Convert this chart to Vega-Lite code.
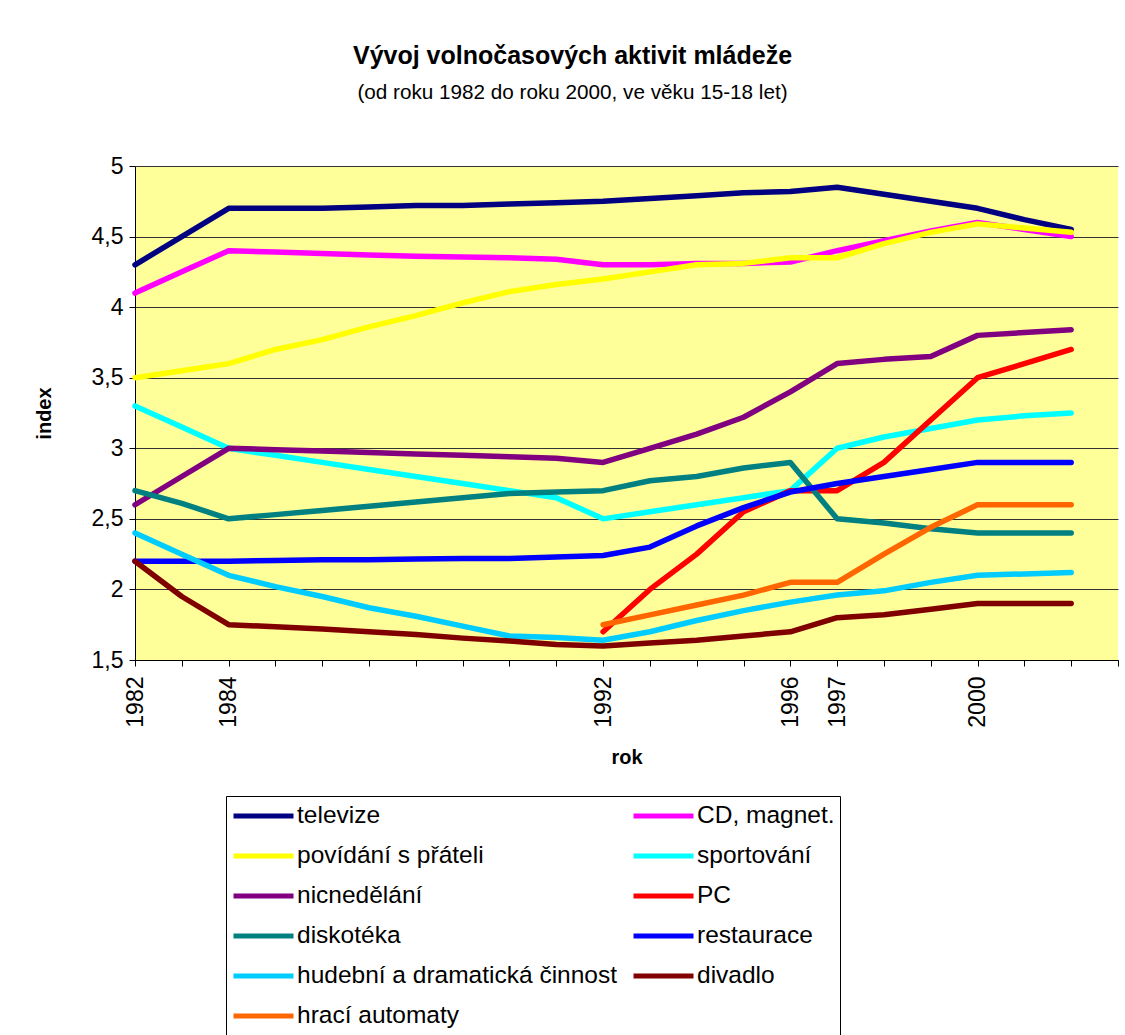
{
  "$schema": "https://vega.github.io/schema/vega-lite/v6.json",
  "width": 983,
  "height": 494,
  "autosize": {"type": "none"},
  "padding": {"left": 135, "top": 166, "right": 7, "bottom": 375},
  "background": "white",
  "title": {
    "text": "Vývoj volnočasových aktivit mládeže",
    "subtitle": "(od roku 1982 do roku 2000, ve věku 15-18 let)",
    "anchor": "middle",
    "frame": "group",
    "dx": -54,
    "offset": 52,
    "font": "Liberation Sans",
    "fontSize": 25,
    "fontWeight": "bold",
    "color": "black",
    "subtitleFont": "Liberation Sans",
    "subtitleFontSize": 20.7,
    "subtitleColor": "black",
    "subtitlePadding": 14
  },
  "config": {
    "view": {"fill": "#FFFF99", "stroke": null},
    "axis": {
      "labelFont": "Liberation Sans",
      "titleFont": "Liberation Sans",
      "labelColor": "black",
      "titleColor": "black",
      "domainColor": "black",
      "tickColor": "black",
      "tickSize": 6,
      "labelFontSize": 23,
      "titleFontSize": 20,
      "titleFontWeight": "bold"
    },
    "legend": {
      "labelFont": "Liberation Sans",
      "labelColor": "black",
      "labelFontSize": 24.5
    }
  },
  "data": {
    "values": [
      {"rok": 1982, "aktivita": "televize", "index": 4.30},
      {"rok": 1983, "aktivita": "televize", "index": 4.50},
      {"rok": 1984, "aktivita": "televize", "index": 4.70},
      {"rok": 1985, "aktivita": "televize", "index": 4.70},
      {"rok": 1986, "aktivita": "televize", "index": 4.70},
      {"rok": 1987, "aktivita": "televize", "index": 4.71},
      {"rok": 1988, "aktivita": "televize", "index": 4.72},
      {"rok": 1989, "aktivita": "televize", "index": 4.72},
      {"rok": 1990, "aktivita": "televize", "index": 4.73},
      {"rok": 1991, "aktivita": "televize", "index": 4.74},
      {"rok": 1992, "aktivita": "televize", "index": 4.75},
      {"rok": 1993, "aktivita": "televize", "index": 4.77},
      {"rok": 1994, "aktivita": "televize", "index": 4.79},
      {"rok": 1995, "aktivita": "televize", "index": 4.81},
      {"rok": 1996, "aktivita": "televize", "index": 4.82},
      {"rok": 1997, "aktivita": "televize", "index": 4.85},
      {"rok": 1998, "aktivita": "televize", "index": 4.80},
      {"rok": 1999, "aktivita": "televize", "index": 4.75},
      {"rok": 2000, "aktivita": "televize", "index": 4.70},
      {"rok": 2001, "aktivita": "televize", "index": 4.62},
      {"rok": 2002, "aktivita": "televize", "index": 4.55},

      {"rok": 1982, "aktivita": "CD, magnet.", "index": 4.10},
      {"rok": 1983, "aktivita": "CD, magnet.", "index": 4.25},
      {"rok": 1984, "aktivita": "CD, magnet.", "index": 4.40},
      {"rok": 1985, "aktivita": "CD, magnet.", "index": 4.39},
      {"rok": 1986, "aktivita": "CD, magnet.", "index": 4.38},
      {"rok": 1987, "aktivita": "CD, magnet.", "index": 4.37},
      {"rok": 1988, "aktivita": "CD, magnet.", "index": 4.36},
      {"rok": 1989, "aktivita": "CD, magnet.", "index": 4.355},
      {"rok": 1990, "aktivita": "CD, magnet.", "index": 4.35},
      {"rok": 1991, "aktivita": "CD, magnet.", "index": 4.34},
      {"rok": 1992, "aktivita": "CD, magnet.", "index": 4.30},
      {"rok": 1993, "aktivita": "CD, magnet.", "index": 4.30},
      {"rok": 1994, "aktivita": "CD, magnet.", "index": 4.31},
      {"rok": 1995, "aktivita": "CD, magnet.", "index": 4.31},
      {"rok": 1996, "aktivita": "CD, magnet.", "index": 4.32},
      {"rok": 1997, "aktivita": "CD, magnet.", "index": 4.40},
      {"rok": 1998, "aktivita": "CD, magnet.", "index": 4.47},
      {"rok": 1999, "aktivita": "CD, magnet.", "index": 4.54},
      {"rok": 2000, "aktivita": "CD, magnet.", "index": 4.60},
      {"rok": 2001, "aktivita": "CD, magnet.", "index": 4.55},
      {"rok": 2002, "aktivita": "CD, magnet.", "index": 4.50},

      {"rok": 1982, "aktivita": "povídání s přáteli", "index": 3.50},
      {"rok": 1983, "aktivita": "povídání s přáteli", "index": 3.55},
      {"rok": 1984, "aktivita": "povídání s přáteli", "index": 3.60},
      {"rok": 1985, "aktivita": "povídání s přáteli", "index": 3.70},
      {"rok": 1986, "aktivita": "povídání s přáteli", "index": 3.77},
      {"rok": 1987, "aktivita": "povídání s přáteli", "index": 3.86},
      {"rok": 1988, "aktivita": "povídání s přáteli", "index": 3.94},
      {"rok": 1989, "aktivita": "povídání s přáteli", "index": 4.03},
      {"rok": 1990, "aktivita": "povídání s přáteli", "index": 4.11},
      {"rok": 1991, "aktivita": "povídání s přáteli", "index": 4.16},
      {"rok": 1992, "aktivita": "povídání s přáteli", "index": 4.20},
      {"rok": 1993, "aktivita": "povídání s přáteli", "index": 4.25},
      {"rok": 1994, "aktivita": "povídání s přáteli", "index": 4.30},
      {"rok": 1995, "aktivita": "povídání s přáteli", "index": 4.31},
      {"rok": 1996, "aktivita": "povídání s přáteli", "index": 4.35},
      {"rok": 1997, "aktivita": "povídání s přáteli", "index": 4.35},
      {"rok": 1998, "aktivita": "povídání s přáteli", "index": 4.45},
      {"rok": 1999, "aktivita": "povídání s přáteli", "index": 4.53},
      {"rok": 2000, "aktivita": "povídání s přáteli", "index": 4.59},
      {"rok": 2001, "aktivita": "povídání s přáteli", "index": 4.56},
      {"rok": 2002, "aktivita": "povídání s přáteli", "index": 4.53},

      {"rok": 1982, "aktivita": "sportování", "index": 3.30},
      {"rok": 1983, "aktivita": "sportování", "index": 3.15},
      {"rok": 1984, "aktivita": "sportování", "index": 3.00},
      {"rok": 1985, "aktivita": "sportování", "index": 2.95},
      {"rok": 1986, "aktivita": "sportování", "index": 2.90},
      {"rok": 1987, "aktivita": "sportování", "index": 2.85},
      {"rok": 1988, "aktivita": "sportování", "index": 2.80},
      {"rok": 1989, "aktivita": "sportování", "index": 2.75},
      {"rok": 1990, "aktivita": "sportování", "index": 2.70},
      {"rok": 1991, "aktivita": "sportování", "index": 2.65},
      {"rok": 1992, "aktivita": "sportování", "index": 2.50},
      {"rok": 1993, "aktivita": "sportování", "index": 2.55},
      {"rok": 1994, "aktivita": "sportování", "index": 2.60},
      {"rok": 1995, "aktivita": "sportování", "index": 2.65},
      {"rok": 1996, "aktivita": "sportování", "index": 2.70},
      {"rok": 1997, "aktivita": "sportování", "index": 3.00},
      {"rok": 1998, "aktivita": "sportování", "index": 3.08},
      {"rok": 1999, "aktivita": "sportování", "index": 3.14},
      {"rok": 2000, "aktivita": "sportování", "index": 3.20},
      {"rok": 2001, "aktivita": "sportování", "index": 3.23},
      {"rok": 2002, "aktivita": "sportování", "index": 3.25},

      {"rok": 1982, "aktivita": "nicnedělání", "index": 2.60},
      {"rok": 1983, "aktivita": "nicnedělání", "index": 2.80},
      {"rok": 1984, "aktivita": "nicnedělání", "index": 3.00},
      {"rok": 1985, "aktivita": "nicnedělání", "index": 2.99},
      {"rok": 1986, "aktivita": "nicnedělání", "index": 2.98},
      {"rok": 1987, "aktivita": "nicnedělání", "index": 2.97},
      {"rok": 1988, "aktivita": "nicnedělání", "index": 2.96},
      {"rok": 1989, "aktivita": "nicnedělání", "index": 2.95},
      {"rok": 1990, "aktivita": "nicnedělání", "index": 2.94},
      {"rok": 1991, "aktivita": "nicnedělání", "index": 2.93},
      {"rok": 1992, "aktivita": "nicnedělání", "index": 2.90},
      {"rok": 1993, "aktivita": "nicnedělání", "index": 3.00},
      {"rok": 1994, "aktivita": "nicnedělání", "index": 3.10},
      {"rok": 1995, "aktivita": "nicnedělání", "index": 3.22},
      {"rok": 1996, "aktivita": "nicnedělání", "index": 3.40},
      {"rok": 1997, "aktivita": "nicnedělání", "index": 3.60},
      {"rok": 1998, "aktivita": "nicnedělání", "index": 3.63},
      {"rok": 1999, "aktivita": "nicnedělání", "index": 3.65},
      {"rok": 2000, "aktivita": "nicnedělání", "index": 3.80},
      {"rok": 2001, "aktivita": "nicnedělání", "index": 3.82},
      {"rok": 2002, "aktivita": "nicnedělání", "index": 3.84},

      {"rok": 1992, "aktivita": "PC", "index": 1.70},
      {"rok": 1993, "aktivita": "PC", "index": 2.00},
      {"rok": 1994, "aktivita": "PC", "index": 2.25},
      {"rok": 1995, "aktivita": "PC", "index": 2.55},
      {"rok": 1996, "aktivita": "PC", "index": 2.70},
      {"rok": 1997, "aktivita": "PC", "index": 2.70},
      {"rok": 1998, "aktivita": "PC", "index": 2.90},
      {"rok": 1999, "aktivita": "PC", "index": 3.20},
      {"rok": 2000, "aktivita": "PC", "index": 3.50},
      {"rok": 2001, "aktivita": "PC", "index": 3.60},
      {"rok": 2002, "aktivita": "PC", "index": 3.70},

      {"rok": 1982, "aktivita": "diskotéka", "index": 2.70},
      {"rok": 1983, "aktivita": "diskotéka", "index": 2.61},
      {"rok": 1984, "aktivita": "diskotéka", "index": 2.50},
      {"rok": 1985, "aktivita": "diskotéka", "index": 2.53},
      {"rok": 1986, "aktivita": "diskotéka", "index": 2.56},
      {"rok": 1987, "aktivita": "diskotéka", "index": 2.59},
      {"rok": 1988, "aktivita": "diskotéka", "index": 2.62},
      {"rok": 1989, "aktivita": "diskotéka", "index": 2.65},
      {"rok": 1990, "aktivita": "diskotéka", "index": 2.68},
      {"rok": 1991, "aktivita": "diskotéka", "index": 2.69},
      {"rok": 1992, "aktivita": "diskotéka", "index": 2.70},
      {"rok": 1993, "aktivita": "diskotéka", "index": 2.77},
      {"rok": 1994, "aktivita": "diskotéka", "index": 2.80},
      {"rok": 1995, "aktivita": "diskotéka", "index": 2.86},
      {"rok": 1996, "aktivita": "diskotéka", "index": 2.90},
      {"rok": 1997, "aktivita": "diskotéka", "index": 2.50},
      {"rok": 1998, "aktivita": "diskotéka", "index": 2.47},
      {"rok": 1999, "aktivita": "diskotéka", "index": 2.43},
      {"rok": 2000, "aktivita": "diskotéka", "index": 2.40},
      {"rok": 2001, "aktivita": "diskotéka", "index": 2.40},
      {"rok": 2002, "aktivita": "diskotéka", "index": 2.40},

      {"rok": 1982, "aktivita": "restaurace", "index": 2.20},
      {"rok": 1983, "aktivita": "restaurace", "index": 2.20},
      {"rok": 1984, "aktivita": "restaurace", "index": 2.20},
      {"rok": 1985, "aktivita": "restaurace", "index": 2.205},
      {"rok": 1986, "aktivita": "restaurace", "index": 2.21},
      {"rok": 1987, "aktivita": "restaurace", "index": 2.21},
      {"rok": 1988, "aktivita": "restaurace", "index": 2.215},
      {"rok": 1989, "aktivita": "restaurace", "index": 2.22},
      {"rok": 1990, "aktivita": "restaurace", "index": 2.22},
      {"rok": 1991, "aktivita": "restaurace", "index": 2.23},
      {"rok": 1992, "aktivita": "restaurace", "index": 2.24},
      {"rok": 1993, "aktivita": "restaurace", "index": 2.30},
      {"rok": 1994, "aktivita": "restaurace", "index": 2.45},
      {"rok": 1995, "aktivita": "restaurace", "index": 2.58},
      {"rok": 1996, "aktivita": "restaurace", "index": 2.69},
      {"rok": 1997, "aktivita": "restaurace", "index": 2.75},
      {"rok": 1998, "aktivita": "restaurace", "index": 2.80},
      {"rok": 1999, "aktivita": "restaurace", "index": 2.85},
      {"rok": 2000, "aktivita": "restaurace", "index": 2.90},
      {"rok": 2001, "aktivita": "restaurace", "index": 2.90},
      {"rok": 2002, "aktivita": "restaurace", "index": 2.90},

      {"rok": 1982, "aktivita": "hudební a dramatická činnost", "index": 2.40},
      {"rok": 1983, "aktivita": "hudební a dramatická činnost", "index": 2.25},
      {"rok": 1984, "aktivita": "hudební a dramatická činnost", "index": 2.10},
      {"rok": 1985, "aktivita": "hudební a dramatická činnost", "index": 2.02},
      {"rok": 1986, "aktivita": "hudební a dramatická činnost", "index": 1.95},
      {"rok": 1987, "aktivita": "hudební a dramatická činnost", "index": 1.87},
      {"rok": 1988, "aktivita": "hudební a dramatická činnost", "index": 1.81},
      {"rok": 1989, "aktivita": "hudební a dramatická činnost", "index": 1.74},
      {"rok": 1990, "aktivita": "hudební a dramatická činnost", "index": 1.67},
      {"rok": 1991, "aktivita": "hudební a dramatická činnost", "index": 1.66},
      {"rok": 1992, "aktivita": "hudební a dramatická činnost", "index": 1.64},
      {"rok": 1993, "aktivita": "hudební a dramatická činnost", "index": 1.70},
      {"rok": 1994, "aktivita": "hudební a dramatická činnost", "index": 1.78},
      {"rok": 1995, "aktivita": "hudební a dramatická činnost", "index": 1.85},
      {"rok": 1996, "aktivita": "hudební a dramatická činnost", "index": 1.91},
      {"rok": 1997, "aktivita": "hudební a dramatická činnost", "index": 1.96},
      {"rok": 1998, "aktivita": "hudební a dramatická činnost", "index": 1.99},
      {"rok": 1999, "aktivita": "hudební a dramatická činnost", "index": 2.05},
      {"rok": 2000, "aktivita": "hudební a dramatická činnost", "index": 2.10},
      {"rok": 2001, "aktivita": "hudební a dramatická činnost", "index": 2.11},
      {"rok": 2002, "aktivita": "hudební a dramatická činnost", "index": 2.12},

      {"rok": 1982, "aktivita": "divadlo", "index": 2.20},
      {"rok": 1983, "aktivita": "divadlo", "index": 1.95},
      {"rok": 1984, "aktivita": "divadlo", "index": 1.75},
      {"rok": 1985, "aktivita": "divadlo", "index": 1.735},
      {"rok": 1986, "aktivita": "divadlo", "index": 1.72},
      {"rok": 1987, "aktivita": "divadlo", "index": 1.70},
      {"rok": 1988, "aktivita": "divadlo", "index": 1.68},
      {"rok": 1989, "aktivita": "divadlo", "index": 1.655},
      {"rok": 1990, "aktivita": "divadlo", "index": 1.635},
      {"rok": 1991, "aktivita": "divadlo", "index": 1.61},
      {"rok": 1992, "aktivita": "divadlo", "index": 1.60},
      {"rok": 1993, "aktivita": "divadlo", "index": 1.62},
      {"rok": 1994, "aktivita": "divadlo", "index": 1.64},
      {"rok": 1995, "aktivita": "divadlo", "index": 1.67},
      {"rok": 1996, "aktivita": "divadlo", "index": 1.70},
      {"rok": 1997, "aktivita": "divadlo", "index": 1.80},
      {"rok": 1998, "aktivita": "divadlo", "index": 1.82},
      {"rok": 1999, "aktivita": "divadlo", "index": 1.86},
      {"rok": 2000, "aktivita": "divadlo", "index": 1.90},
      {"rok": 2001, "aktivita": "divadlo", "index": 1.90},
      {"rok": 2002, "aktivita": "divadlo", "index": 1.90},

      {"rok": 1992, "aktivita": "hrací automaty", "index": 1.75},
      {"rok": 1993, "aktivita": "hrací automaty", "index": 1.82},
      {"rok": 1994, "aktivita": "hrací automaty", "index": 1.89},
      {"rok": 1995, "aktivita": "hrací automaty", "index": 1.96},
      {"rok": 1996, "aktivita": "hrací automaty", "index": 2.05},
      {"rok": 1997, "aktivita": "hrací automaty", "index": 2.05},
      {"rok": 1998, "aktivita": "hrací automaty", "index": 2.25},
      {"rok": 1999, "aktivita": "hrací automaty", "index": 2.44},
      {"rok": 2000, "aktivita": "hrací automaty", "index": 2.60},
      {"rok": 2001, "aktivita": "hrací automaty", "index": 2.60},
      {"rok": 2002, "aktivita": "hrací automaty", "index": 2.60}
    ]
  },
  "mark": {"type": "line", "strokeWidth": 5.5, "strokeCap": "round", "strokeJoin": "round"},
  "encoding": {
    "x": {
      "field": "rok",
      "type": "quantitative",
      "scale": {"domain": [1982, 2003], "nice": false, "zero": false},
      "axis": {
        "title": "rok",
        "values": [1982,1983,1984,1985,1986,1987,1988,1989,1990,1991,1992,1993,1994,1995,1996,1997,1998,1999,2000,2001,2002,2003],
        "labelExpr": "indexof([1982,1984,1992,1996,1997,2000], datum.value) >= 0 ? '' + datum.value : ''",
        "labelAngle": -90,
        "labelPadding": 10,
        "labelOverlap": false,
        "labelFlush": false,
        "grid": false,
        "titlePadding": 20
      }
    },
    "y": {
      "field": "index",
      "type": "quantitative",
      "scale": {"domain": [1.5, 5], "nice": false, "zero": false},
      "axis": {
        "title": "index",
        "values": [1.5, 2, 2.5, 3, 3.5, 4, 4.5, 5],
        "labelExpr": "replace('' + datum.value, '.', ',')",
        "labelPadding": 6,
        "labelFlush": false,
        "grid": true,
        "gridColor": "#333333",
        "gridWidth": 1,
        "titlePadding": 37
      }
    },
    "color": {
      "field": "aktivita",
      "type": "nominal",
      "sort": ["televize", "CD, magnet.", "povídání s přáteli", "sportování", "nicnedělání", "PC", "diskotéka", "restaurace", "hudební a dramatická činnost", "divadlo", "hrací automaty"],
      "scale": {
        "domain": ["televize", "CD, magnet.", "povídání s přáteli", "sportování", "nicnedělání", "PC", "diskotéka", "restaurace", "hudební a dramatická činnost", "divadlo", "hrací automaty"],
        "range": ["#000080", "#FF00FF", "#FFFF00", "#00FFFF", "#800080", "#FF0000", "#008080", "#0000FF", "#00CCFF", "#800000", "#FF6600"]
      },
      "legend": {
        "title": null,
        "orient": "none",
        "direction": "horizontal",
        "legendX": 91,
        "legendY": 630,
        "columns": 2,
        "symbolType": "stroke",
        "symbolSize": 3600,
        "symbolStrokeWidth": 5,
        "labelOffset": 1,
        "labelLimit": 500,
        "clipHeight": 30,
        "padding": 5,
        "rowPadding": 10,
        "columnPadding": 13,
        "strokeColor": "black",
        "fillColor": "white"
      }
    }
  }
}
